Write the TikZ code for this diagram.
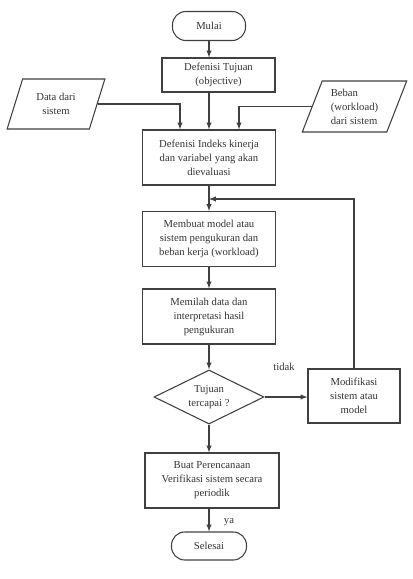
\documentclass[tikz,border=0pt]{standalone}
\usepackage{fontspec}
\setmainfont{Liberation Serif}
\usetikzlibrary{shapes.geometric}
\begin{document}
\begin{tikzpicture}[x=0.75pt,y=-0.75pt,
  font=\fontsize{8}{10.5}\selectfont, >=latex,
  every node/.style={text=black!80},
  flow/.style={draw=black!75, line width=0.8pt},
  box/.style={flow, rectangle, align=center, inner sep=1pt},
  terminal/.style={flow, rectangle, rounded corners=10pt, align=center},
  io/.style={flow, trapezium, trapezium left angle=68, trapezium right angle=112,
    trapezium stretches=true, inner sep=1pt},
  decision/.style={flow, diamond, align=center, inner sep=0pt, aspect=2}]

\useasboundingbox (0,0) rectangle (413,579);

\def\mainX{209}
\def\boxW{99.75pt}
\def\boxH{41.25pt}

\node[terminal, minimum width=54.75pt, minimum height=21.75pt] (mulai) at (\mainX,26) {Mulai};
\node[box, minimum width=84.75pt, minimum height=25.5pt] (tujuan) at (218.5,75) {Defenisi Tujuan\\(objective)};
\node[io, align=center, minimum width=73.5pt, minimum height=37.5pt] (data) at (56,104) {Data dari\\sistem};
\node[io, align=left, minimum width=78.75pt, minimum height=38.25pt] (beban) at (354.5,106.5) {Beban\\(workload)\\dari sistem};
\node[box, minimum width=\boxW, minimum height=\boxH] (indeks) at (\mainX,157.5) {Defenisi Indeks kinerja\\dan variabel yang akan\\dievaluasi};
\node[box, minimum width=\boxW, minimum height=\boxH] (membuat) at (\mainX,239) {Membuat model atau\\sistem pengukuran dan\\beban kerja (workload)};
\node[box, minimum width=\boxW, minimum height=\boxH] (memilah) at (\mainX,316.5) {Memilah data dan\\interpretasi hasil\\pengukuran};
\node[decision, minimum width=82.5pt, minimum height=40.5pt] (tercapai) at (\mainX,397) {Tujuan\\tercapai ?};
\node[box, minimum width=69pt, minimum height=40.5pt] (modifikasi) at (354,396) {Modifikasi\\sistem atau\\model};
\node[box, minimum width=100.5pt, minimum height=\boxH] (perencanaan) at (212,480.5) {Buat Perencanaan\\Verifikasi sistem secara\\periodik};
\node[terminal, minimum width=56.25pt, minimum height=21pt] (selesai) at (\mainX,546) {Selesai};

\coordinate (balik) at (\mainX,199);
\node (tidak) at (284,367) {tidak};
\node (ya) at (229,522) {ya};

\draw[flow,->] (mulai.south) -- (mulai.south |- tujuan.north);
\draw[flow,->] (indeks.north |- tujuan.south) -- (indeks.north);
\draw[flow,->] (data.east) -| ([xshift=-21.75pt]indeks.north);
\draw[flow,->] (beban.west) -| ([xshift=22.5pt]indeks.north);
\draw[flow,->] (indeks.south) -- (membuat.north);
\draw[flow,->] (membuat.south) -- (memilah.north);
\draw[flow,->] (memilah.south) -- (tercapai.north);
\draw[flow,->] (tercapai.east) -- (tercapai.east -| modifikasi.west);
\draw[flow,->] (modifikasi.north) |- (balik);
\draw[flow,->] (tercapai.south) -- (tercapai.south |- perencanaan.north);
\draw[flow,->] (selesai.north |- perencanaan.south) -- (selesai.north);

\end{tikzpicture}
\end{document}
